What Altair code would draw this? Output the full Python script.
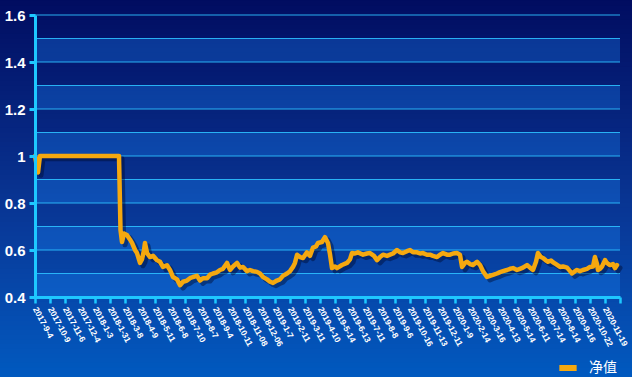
import altair as alt
import pandas as pd

# x labels (one per axis tick; the last tick has no label)
x_labels = ["2017-9-4", "2017-10-9", "2017-11-6", "2017-12-4", "2018-1-3", "2018-1-31",
            "2018-3-8", "2018-4-9", "2018-5-11", "2018-6-8", "2018-7-10", "2018-8-7",
            "2018-9-4", "2018-10-11", "2018-11-08", "2018-12-06", "2019-1-7", "2019-2-11",
            "2019-3-11", "2019-4-10", "2019-5-14", "2019-6-13", "2019-7-11", "2019-8-8",
            "2019-9-6", "2019-10-16", "2019-11-13", "2019-12-11", "2020-1-9", "2020-2-14",
            "2020-3-16", "2020-4-13", "2020-5-14", "2020-6-11", "2020-7-14", "2020-8-14",
            "2020-9-16", "2020-10-22", "2020-11-19"]

# position along the category axis (in tick units) and net value
pos = [0.0, 0.2, 0.33, 0.47, 5.6, 5.7, 5.8, 5.93, 6.13, 6.33, 6.47, 6.67, 6.8, 7.0, 7.13,
       7.27, 7.33, 7.47, 7.67, 7.87, 8.13, 8.33, 8.53, 8.8, 9.0, 9.2, 9.47, 9.67, 9.87,
       10.13, 10.33, 10.53, 10.8, 11.0, 11.2, 11.47, 11.67, 11.87, 12.13, 12.33, 12.53,
       12.8, 13.0, 13.2, 13.47, 13.67, 13.87, 14.13, 14.33, 14.53, 14.8, 15.0, 15.2,
       15.47, 15.67, 15.87, 16.13, 16.33, 16.53, 16.8, 17.0, 17.2, 17.33, 17.47, 17.67,
       17.87, 18.13, 18.33, 18.53, 18.73, 18.87, 19.13, 19.33, 19.53, 19.67, 19.8, 20.0,
       20.13, 20.47, 20.8, 21.0, 21.13, 21.33, 21.53, 21.87, 22.13, 22.33, 22.6, 22.8,
       23.0, 23.2, 23.47, 23.67, 23.87, 24.13, 24.33, 24.53, 24.8, 25.0, 25.2, 25.47,
       25.67, 25.87, 26.13, 26.33, 26.53, 26.8, 27.0, 27.2, 27.47, 27.67, 27.87, 28.13,
       28.33, 28.47, 28.67, 28.8, 29.0, 29.2, 29.47, 29.67, 29.87, 30.13, 30.33, 30.53,
       30.8, 31.0, 31.2, 31.47, 31.67, 31.87, 32.13, 32.33, 32.53, 32.8, 33.0, 33.2,
       33.4, 33.53, 33.73, 33.87, 34.07, 34.2, 34.4, 34.53, 34.73, 35.0, 35.2, 35.47,
       35.67, 35.8, 36.0, 36.13, 36.33, 36.53, 36.8, 37.0, 37.2, 37.33, 37.47, 37.53,
       37.67, 37.8, 38.0, 38.13, 38.33, 38.53, 38.67, 38.8]
nav = [1.0, 0.93, 1.0, 1.0, 1.0, 0.685, 0.634, 0.67, 0.664, 0.645, 0.63, 0.6, 0.587, 0.545,
       0.56, 0.6, 0.63, 0.587, 0.57, 0.575, 0.557, 0.55, 0.528, 0.535, 0.515, 0.485, 0.475,
       0.45, 0.465, 0.47, 0.48, 0.485, 0.49, 0.47, 0.48, 0.48, 0.495, 0.5, 0.505, 0.515,
       0.52, 0.545, 0.515, 0.53, 0.545, 0.525, 0.528, 0.51, 0.515, 0.51, 0.507, 0.5, 0.485,
       0.475, 0.465, 0.46, 0.47, 0.475, 0.49, 0.5, 0.51, 0.528, 0.545, 0.58, 0.57, 0.566,
       0.59, 0.575, 0.61, 0.615, 0.63, 0.634, 0.655, 0.63, 0.58, 0.523, 0.53, 0.523, 0.536,
       0.545, 0.56, 0.587, 0.585, 0.59, 0.58, 0.585, 0.587, 0.575, 0.557, 0.57, 0.58, 0.575,
       0.58, 0.585, 0.6, 0.59, 0.587, 0.595, 0.6, 0.59, 0.59, 0.585, 0.587, 0.58, 0.58,
       0.575, 0.57, 0.58, 0.587, 0.58, 0.58, 0.585, 0.587, 0.58, 0.528, 0.545, 0.55, 0.54,
       0.536, 0.55, 0.536, 0.51, 0.485, 0.49, 0.494, 0.5, 0.506, 0.51, 0.515, 0.52, 0.523,
       0.515, 0.52, 0.525, 0.536, 0.525, 0.515, 0.55, 0.587, 0.57, 0.566, 0.555, 0.55,
       0.555, 0.548, 0.54, 0.528, 0.53, 0.525, 0.51, 0.5, 0.51, 0.515, 0.51, 0.515, 0.52,
       0.528, 0.53, 0.57, 0.54, 0.515, 0.52, 0.53, 0.557, 0.545, 0.536, 0.54, 0.523, 0.536]

y_ticks = [0.4, 0.6, 0.8, 1.0, 1.2, 1.4, 1.6]
grid_vals = [0.4, 0.5, 0.6, 0.7, 0.8, 0.9, 1.0, 1.1, 1.2, 1.3, 1.4, 1.5, 1.6]
band_lo = [0.4, 0.6, 0.8, 1.0, 1.2, 1.4]
band_hi = [0.5, 0.7, 0.9, 1.1, 1.3, 1.5]
series_name = "净值"

W, H = 585, 282
N_TICKS = len(x_labels)  # ticks 0..39

df = pd.DataFrame({"pos": pos, "nav": nav, "series": series_name})
bands = pd.DataFrame({"lo": band_lo, "hi": band_hi})
grid = pd.DataFrame({"g": grid_vals})

# background gradient strips, expressed in y-scale units so they span the whole canvas
BG_STEP = 0.02
bg_lo = [round(0.04 + k * BG_STEP, 4) for k in range(83)]
bg = pd.DataFrame({"b0": bg_lo, "b1": [round(v + BG_STEP * 2, 4) for v in bg_lo]})

xscale = alt.Scale(domain=[0, N_TICKS], nice=False, zero=False)
yscale = alt.Scale(domain=[0.4, 1.6], nice=False, zero=False)

label_js = "[" + ",".join("'" + s + "'" for s in x_labels) + "]"

x_axis = alt.Axis(values=list(range(N_TICKS + 1)), labelExpr=label_js + "[datum.value] || ''",
                  labelAngle=62, labelAlign="left", labelBaseline="middle",
                  labelFontSize=8.5, labelFontWeight="bold", labelColor="#ffffff",
                  labelFont="Liberation Sans", labelPadding=4, labelOverlap=False,
                  labelBound=False, labelFlush=False, title=None,
                  domainColor="#1ec8ff", domainWidth=3, tickColor="#1ec8ff",
                  tickWidth=2.5, tickSize=6, grid=False, zindex=1)
y_axis = alt.Axis(values=y_ticks, format="~g", labelFontSize=15, labelFontWeight="bold",
                  labelColor="#ffffff", labelFont="Liberation Sans", labelPadding=4, title=None,
                  domainColor="#1ec8ff", domainWidth=3, tickColor="#1ec8ff",
                  tickWidth=3, tickSize=6, grid=False, zindex=1)

bg_layer = alt.Chart(bg).mark_rect(strokeWidth=0).encode(
    x=alt.value(-35), x2=alt.value(W + 12),
    y=alt.Y("b0:Q", scale=yscale, axis=y_axis, title=None), y2="b1:Q",
    fill=alt.Fill("b0:Q", scale=alt.Scale(domain=[0.04, 1.7], range=["#005ac0", "#000a5e"]),
                  legend=None))

band_layer = alt.Chart(bands).mark_rect(color="#1a8cff", opacity=0.3).encode(
    x=alt.value(0), x2=alt.value(W),
    y=alt.Y("lo:Q", scale=yscale, axis=y_axis, title=None), y2="hi:Q")

grid_layer = alt.Chart(grid).mark_rule(color="#2cc0ff", strokeWidth=1.2, opacity=0.9).encode(
    x=alt.value(0), x2=alt.value(W),
    y=alt.Y("g:Q", scale=yscale, axis=y_axis, title=None))

shadow = alt.Chart(df).transform_calculate(
    xs="datum.pos + 0.2", ys="datum.nav - 0.012"
).mark_line(color="#000a30", opacity=0.45, strokeWidth=5, strokeJoin="round", strokeCap="round").encode(
    x=alt.X("xs:Q", scale=xscale, axis=x_axis, title=None),
    y=alt.Y("ys:Q", scale=yscale, axis=y_axis, title=None),
    order="pos:Q")

line = alt.Chart(df).mark_line(strokeWidth=4.5, strokeJoin="round", strokeCap="round").encode(
    x=alt.X("pos:Q", scale=xscale, axis=x_axis, title=None),
    y=alt.Y("nav:Q", scale=yscale, axis=y_axis, title=None),
    color=alt.Color("series:N", scale=alt.Scale(range=["#f5a80f"]), title=None,
                    legend=alt.Legend(orient="none", legendX=521, legendY=341,
                                      symbolType="stroke", symbolStrokeWidth=6, symbolSize=300,
                                      labelColor="#ffffff", labelFontSize=14,
                                      labelFont="Noto Sans CJK SC", labelOffset=9,
                                      padding=0, zindex=1)),
    order="pos:Q")

chart = alt.layer(bg_layer, band_layer, grid_layer, shadow, line).properties(
    width=W, height=H,
    autosize=alt.AutoSizeParams(type="none"),
    padding={"left": 35, "top": 15, "right": 12, "bottom": 80},
).configure_view(strokeWidth=0)

chart.save("out.html", embed_options={"renderer": "svg", "actions": False})
